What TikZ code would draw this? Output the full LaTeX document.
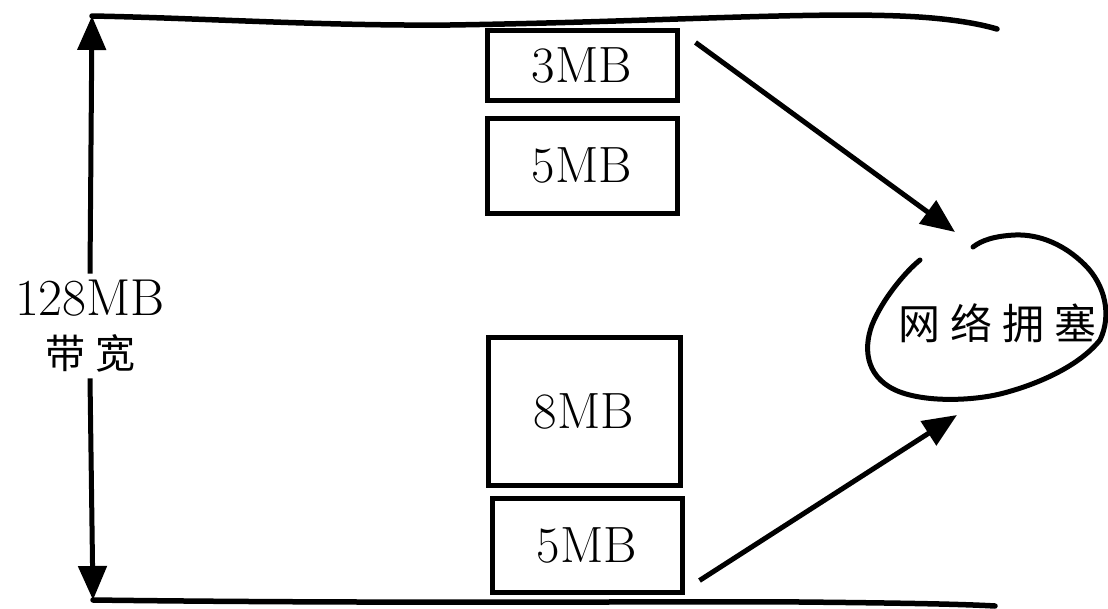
\documentclass[tikz,border=0pt]{standalone}
\usepackage{fontspec}
\usepackage{tikz}
\usetikzlibrary{arrows.meta,positioning,calc}
\newfontfamily\cjkfont{Noto Sans CJK SC}
\newcommand{\cjkgap}{\hspace{10pt}}
\tikzset{
  mbbox/.style={draw=black,line width=5pt,minimum width=190pt,inner sep=0pt,
                font=\fontsize{51}{55}\selectfont},
  edgeline/.style={line width=5.5pt,line cap=round},
  bigarrow/.style={-{Triangle[length=34pt,width=28pt]},line width=5pt},
}

\begin{document}
\begin{tikzpicture}[x=1pt,y=-1pt]
\useasboundingbox (0,0) rectangle (1108,608);

% =================================================================
% pipe -- upper and lower edge, bandwidth arrow
% =================================================================
\coordinate (top) at (92,16);
\coordinate (bot) at (93,600);

\draw[edgeline] (top) .. controls (200,18) and (320,26) .. (450,25)
  .. controls (650,22) and (800,12) .. (900,16)
  .. controls (950,18) and (980,24) .. (997,29);
\draw[edgeline] (bot) .. controls (400,604) and (700,601) .. (800,602)
  .. controls (900,603) and (960,604) .. (995,606);

\node[align=center, inner sep=6pt, font=\fontsize{52}{56}\selectfont] (bw) at (90,326)
  {128MB\\[-3pt]
   {\cjkfont\fontsize{40}{44}\selectfont 带\cjkgap 宽}};
\draw[bigarrow] (bw.north) -- (top);
\draw[bigarrow] (bw.south) -- (bot);

% =================================================================
% packets in the pipe
% =================================================================
\node[mbbox, minimum height=70pt]                   (mb3)  at (582,65) {3MB};
\node[mbbox, minimum height=95pt, below=13pt of mb3] (mb5a) {5MB};

\node[mbbox, minimum width=192pt, minimum height=148pt] (mb8) at (584,411) {8MB};
\node[mbbox, minimum height=94pt, below=8pt of mb8, xshift=3pt] (mb5b) {5MB};

% =================================================================
% congestion blob
% =================================================================
\node[font=\cjkfont\fontsize{42}{46}\selectfont] (jam) at (997,323)
  {网\cjkgap 络\cjkgap 拥\cjkgap 塞};

\draw[line width=5pt,line cap=round]
  (920,260) .. controls (905,272) and (882,300) .. (872,325)
  .. controls (862,352) and (868,380) .. (900,392)
  .. controls (930,403) and (975,400) .. (1000,394)
  .. controls (1040,384) and (1080,365) .. (1100,340)
  .. controls (1112,315) and (1105,285) .. (1085,265)
  .. controls (1065,245) and (1040,234) .. (1015,235)
  .. controls (995,236) and (982,240) .. (973,247);

\coordinate (jamtop) at (955,232);
\coordinate (jambot) at (957,415);

\draw[bigarrow] ([shift={(16,15)}]mb3.north east) -- (jamtop);
\draw[bigarrow] ([shift={(15,-14)}]mb5b.south east) -- (jambot);

\end{tikzpicture}
\end{document}
